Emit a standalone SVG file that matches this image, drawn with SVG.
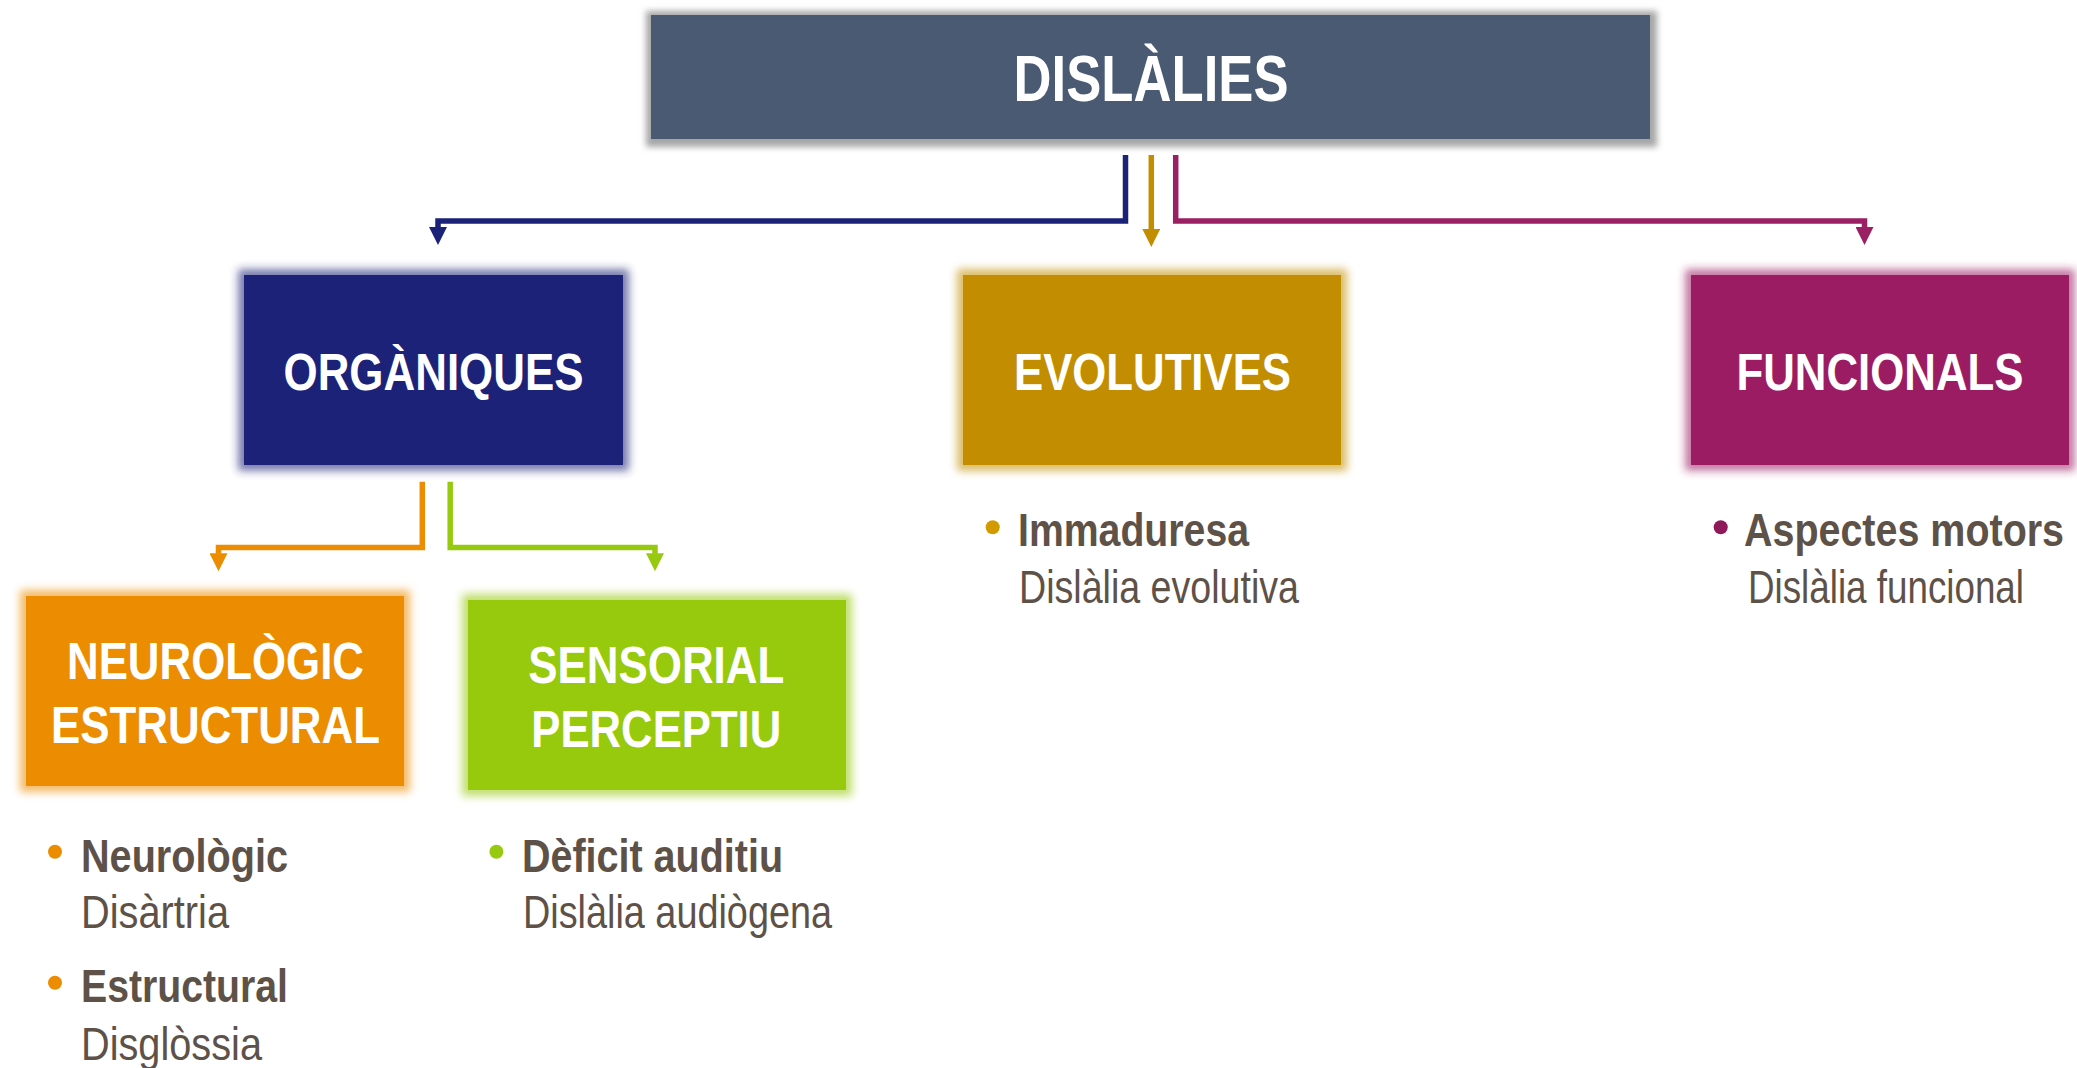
<svg xmlns="http://www.w3.org/2000/svg" width="2077" height="1068" viewBox="0 0 2077 1068">
<style>
.title{font-family:"Liberation Sans Narrow","Liberation Sans",Arial,sans-serif;font-weight:bold;fill:#ffffff;text-anchor:middle}
.item{font-family:"Liberation Sans Narrow","Liberation Sans",Arial,sans-serif;fill:#5e5148;font-size:46px}
.b{font-weight:bold}
.conn{fill:none;stroke-width:5.5;stroke-linejoin:miter}
</style>
<defs>
<filter id="shadow" x="-5%" y="-20%" width="110%" height="140%">
<feMorphology in="SourceAlpha" operator="dilate" radius="6" result="d"/>
<feGaussianBlur in="d" stdDeviation="3" result="bl"/>
<feOffset in="bl" dx="1" dy="2" result="o"/>
<feFlood flood-color="#a6a6a6"/>
<feComposite in2="o" operator="in" result="s"/>
<feMerge><feMergeNode in="s"/><feMergeNode in="SourceGraphic"/></feMerge>
</filter>
<filter id="glow" x="-20%" y="-20%" width="140%" height="140%">
<feMorphology in="SourceGraphic" operator="dilate" radius="6" result="d"/>
<feGaussianBlur in="d" stdDeviation="4" result="bl"/>
<feComponentTransfer in="bl" result="g"><feFuncA type="linear" slope="0.6"/></feComponentTransfer>
<feMerge><feMergeNode in="g"/><feMergeNode in="SourceGraphic"/></feMerge>
</filter>
<marker id="aNavy" markerUnits="userSpaceOnUse" viewBox="0 0 18 18" markerWidth="18" markerHeight="18" refX="0.5" refY="9" orient="auto"><path d="M0,0 L18,9 L0,18 z" fill="#1b2278"/></marker>
<marker id="aGold" markerUnits="userSpaceOnUse" viewBox="0 0 18 18" markerWidth="18" markerHeight="18" refX="0.5" refY="9" orient="auto"><path d="M0,0 L18,9 L0,18 z" fill="#c28e00"/></marker>
<marker id="aMag" markerUnits="userSpaceOnUse" viewBox="0 0 18 18" markerWidth="18" markerHeight="18" refX="0.5" refY="9" orient="auto"><path d="M0,0 L18,9 L0,18 z" fill="#9b1f63"/></marker>
<marker id="aOr" markerUnits="userSpaceOnUse" viewBox="0 0 18 18" markerWidth="18" markerHeight="18" refX="0.5" refY="9" orient="auto"><path d="M0,0 L18,9 L0,18 z" fill="#ec8c00"/></marker>
<marker id="aGr" markerUnits="userSpaceOnUse" viewBox="0 0 18 18" markerWidth="18" markerHeight="18" refX="0.5" refY="9" orient="auto"><path d="M0,0 L18,9 L0,18 z" fill="#97c911"/></marker>
</defs>
<rect width="2077" height="1068" fill="#ffffff"/>

<g id="connectors">
<path class="conn" stroke="#1b2278" d="M1125.5,155 V221 H438 V227.5" marker-end="url(#aNavy)"/>
<path class="conn" stroke="#c28e00" d="M1151.3,155 V229.5" marker-end="url(#aGold)"/>
<path class="conn" stroke="#9b1f63" d="M1175.7,155 V221 H1864.5 V227.5" marker-end="url(#aMag)"/>
<path class="conn" stroke="#ec8c00" stroke-width="5" d="M422.3,481.7 V547.5 H218.5 V553.7" marker-end="url(#aOr)"/>
<path class="conn" stroke="#97c911" stroke-width="5" d="M450.2,481.7 V547.5 H655 V553.7" marker-end="url(#aGr)"/>
</g>

<g id="node-dislalies">
<rect x="651" y="15" width="999" height="124" fill="#4a5a72" filter="url(#shadow)"/>
<text class="title" x="1151" y="101" font-size="64" textLength="275" lengthAdjust="spacingAndGlyphs">DISLÀLIES</text>
</g>

<g id="node-organiques">
<rect x="244" y="275" width="379" height="190" fill="#1b2278" filter="url(#glow)"/>
<text class="title" x="433.5" y="390" font-size="51" textLength="300" lengthAdjust="spacingAndGlyphs">ORGÀNIQUES</text>
</g>

<g id="node-evolutives">
<rect x="963" y="275" width="378" height="190" fill="#c28e00" filter="url(#glow)"/>
<text class="title" x="1152.5" y="390" font-size="51" textLength="277" lengthAdjust="spacingAndGlyphs">EVOLUTIVES</text>
</g>

<g id="node-funcionals">
<rect x="1691" y="275" width="378" height="190" fill="#9b1f63" filter="url(#glow)"/>
<text class="title" x="1880" y="390" font-size="51" textLength="287" lengthAdjust="spacingAndGlyphs">FUNCIONALS</text>
</g>

<g id="node-neurologic">
<rect x="26" y="596" width="378" height="190" fill="#ec8c00" filter="url(#glow)"/>
<text class="title" x="215.5" y="679" font-size="51" textLength="297" lengthAdjust="spacingAndGlyphs">NEUROLÒGIC</text>
<text class="title" x="215.5" y="743" font-size="51" textLength="329" lengthAdjust="spacingAndGlyphs">ESTRUCTURAL</text>
</g>

<g id="node-sensorial">
<rect x="468" y="600" width="378" height="190" fill="#97c911" filter="url(#glow)"/>
<text class="title" x="656.3" y="683.3" font-size="51" textLength="256" lengthAdjust="spacingAndGlyphs">SENSORIAL</text>
<text class="title" x="656.3" y="747.3" font-size="51" textLength="250" lengthAdjust="spacingAndGlyphs">PERCEPTIU</text>
</g>

<g id="list-organiques-neuro">
<circle cx="55" cy="851.7" r="7" fill="#ec8c00"/>
<text class="item b" x="81" y="871.7" textLength="207" lengthAdjust="spacingAndGlyphs">Neurològic</text>
<text class="item" x="81" y="928.3" textLength="148" lengthAdjust="spacingAndGlyphs">Disàrtria</text>
<circle cx="55" cy="982.7" r="7" fill="#ec8c00"/>
<text class="item b" x="81" y="1001.7" textLength="207" lengthAdjust="spacingAndGlyphs">Estructural</text>
<text class="item" x="81" y="1060" textLength="181" lengthAdjust="spacingAndGlyphs">Disglòssia</text>
</g>

<g id="list-sensorial">
<circle cx="496.4" cy="851.7" r="7" fill="#97c911"/>
<text class="item b" x="522" y="871.7" textLength="261" lengthAdjust="spacingAndGlyphs">Dèficit auditiu</text>
<text class="item" x="523" y="927.7" textLength="309" lengthAdjust="spacingAndGlyphs">Dislàlia audiògena</text>
</g>

<g id="list-evolutives">
<circle cx="992.7" cy="527.3" r="7" fill="#d09a00"/>
<text class="item b" x="1018" y="546" textLength="231" lengthAdjust="spacingAndGlyphs">Immaduresa</text>
<text class="item" x="1019" y="602.7" textLength="280" lengthAdjust="spacingAndGlyphs">Dislàlia evolutiva</text>
</g>

<g id="list-funcionals">
<circle cx="1720.7" cy="527.3" r="7" fill="#8e1a5c"/>
<text class="item b" x="1744" y="545.7" textLength="320" lengthAdjust="spacingAndGlyphs">Aspectes motors</text>
<text class="item" x="1748" y="602.7" textLength="276" lengthAdjust="spacingAndGlyphs">Dislàlia funcional</text>
</g>
</svg>
